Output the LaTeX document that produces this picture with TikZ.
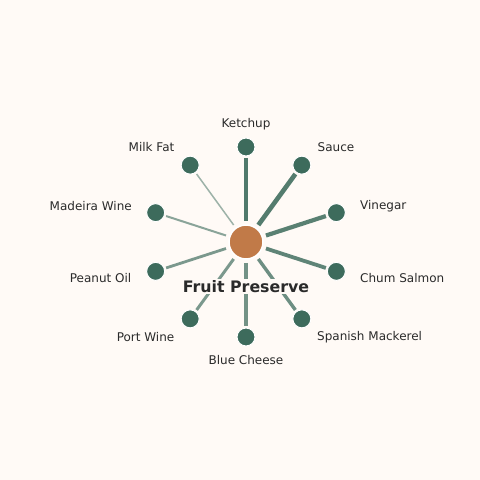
\documentclass[tikz,border=0pt]{standalone}
\usepackage{fontspec}
\setmainfont{DejaVu Sans}
\usetikzlibrary{calc}
\begin{document}
\begin{tikzpicture}[x=1pt,y=1pt,
  leaf/.style={circle,fill=leafc,draw=white,line width=1pt,minimum size=18pt,inner sep=0pt},
  hub/.style={circle,fill=hubc,draw=white,line width=1.5pt,minimum size=34pt,inner sep=0pt},
  lbl/.style={text=txtc,font=\fontsize{12}{14}\selectfont,inner sep=0pt},
  spoke/.style={draw=edgec,line cap=butt}]
\definecolor{bgc}{HTML}{FFFAF6}
\definecolor{leafc}{HTML}{3D6B5C}
\definecolor{hubc}{HTML}{C17A48}
\definecolor{txtc}{HTML}{2A2A2A}
\definecolor{edgec}{HTML}{3D6B5C}
\fill[bgc] (0,0) rectangle (480,480);
\useasboundingbox (0,0) rectangle (480,480);
\coordinate (c) at (246,238);
\node[hub] (hub) at (c) {};
\foreach \n/\a/\w/\o in {ketchup/90/4.8/0.9, sauce/54/4.6/0.88, vinegar/18/4.2/0.85, chum/-18/3.8/0.82, spanish/-54/3.4/0.75, blue/-90/3.3/0.72, port/-126/3.0/0.68, peanut/-162/2.8/0.68, madeira/162/2.0/0.6, milk/126/1.5/0.5}{
  \node[leaf] (\n) at ($(c)+(\a:95)$) {};
  \coordinate (\n s) at ($(c)+(\a:21)$);
  \coordinate (\n e) at ($(c)+(\a:84)$);
  \draw[spoke,line width=\w pt,draw opacity=\o] (\n s) -- (\n e);
}
\node[font=\bfseries\fontsize{15.8}{18}\selectfont,text=txtc,fill=bgc,inner sep=1.5pt] (title) at (246,193.5) {Fruit Preserve};
\node[lbl] (lk) at (246,355.5) {Ketchup};
\node[lbl,anchor=west] (ls) at (317.5,332.5) {Sauce};
\node[lbl,anchor=west] (lv) at (360,273.5) {Vinegar};
\node[lbl,anchor=west] (lc) at (360,201.5) {Chum Salmon};
\node[lbl,anchor=west] (lsm) at (317,142.5) {Spanish Mackerel};
\node[lbl] (lb) at (246,119.5) {Blue Cheese};
\node[lbl,anchor=east] (lp) at (174.5,142.5) {Port Wine};
\node[lbl,anchor=east] (lpo) at (131.5,201.5) {Peanut Oil};
\node[lbl,anchor=east] (lm) at (132,273.5) {Madeira Wine};
\node[lbl,anchor=east] (lmf) at (174.5,332.5) {Milk Fat};
\end{tikzpicture}
\end{document}
